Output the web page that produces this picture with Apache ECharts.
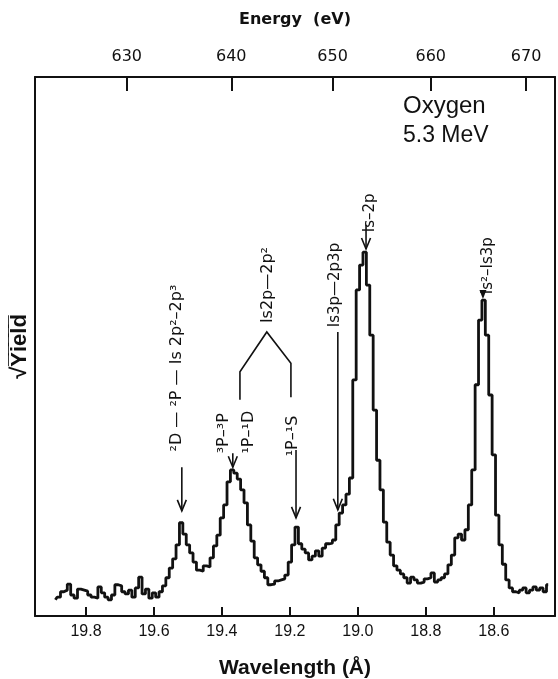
<!DOCTYPE html>
<html><head><meta charset="utf-8">
<script src="https://cdn.jsdelivr.net/npm/echarts@6/dist/echarts.min.js"></script>
<style>html,body{margin:0;padding:0;background:#fff}#c{width:558px;height:679px}</style>
</head><body><div id="c"></div>
<script>
// ---- data ----
const wavelength = [
19.89,19.88,19.87,19.86,19.85,19.84,19.83,19.82,19.81,19.80,
19.79,19.78,19.77,19.76,19.75,19.74,19.73,19.72,19.71,19.70,
19.69,19.68,19.67,19.66,19.65,19.64,19.63,19.62,19.61,19.60,
19.59,19.58,19.57,19.56,19.55,19.54,19.53,19.52,19.51,19.50,
19.49,19.48,19.47,19.46,19.45,19.44,19.43,19.42,19.41,19.40,
19.39,19.38,19.37,19.36,19.35,19.34,19.33,19.32,19.31,19.30,
19.29,19.28,19.27,19.26,19.25,19.24,19.23,19.22,19.21,19.20,
19.19,19.18,19.17,19.16,19.15,19.14,19.13,19.12,19.11,19.10,
19.09,19.08,19.07,19.06,19.05,19.04,19.03,19.02,19.01,19.00,
18.99,18.98,18.97,18.96,18.95,18.94,18.93,18.92,18.91,18.90,
18.89,18.88,18.87,18.86,18.85,18.84,18.83,18.82,18.81,18.80,
18.79,18.78,18.77,18.76,18.75,18.74,18.73,18.72,18.71,18.70,
18.69,18.68,18.67,18.66,18.65,18.64,18.63,18.62,18.61,18.60,
18.59,18.58,18.57,18.56,18.55,18.54,18.53,18.52,18.51,18.50,
18.49,18.48,18.47,18.46,18.45,18.44
];
const sqrtYield = [
3.0,3.5,4.5,4.8,5.9,3.9,3.3,5.0,4.8,4.6,
3.9,3.5,3.3,5.4,4.3,3.5,3.0,3.9,5.8,5.6,
4.5,4.1,4.8,3.5,5.2,7.2,4.1,5.0,3.3,4.3,
3.5,4.5,5.6,7.1,8.9,10.6,13.2,17.3,15.2,13.2,
11.7,10.0,8.5,8.3,9.3,9.1,10.8,13.0,15.0,18.2,
20.6,24.9,27.1,26.5,25.4,23.4,21.0,16.9,13.9,10.8,
9.5,8.3,7.1,5.8,5.9,6.5,6.7,6.9,7.6,10.0,
13.2,16.5,13.4,12.4,11.7,10.4,11.1,12.1,11.1,12.6,
13.4,13.5,14.1,16.9,19.1,20.6,22.6,25.6,43.8,60.5,
65.1,67.5,61.4,52.1,38.2,28.9,23.4,17.4,13.7,11.3,
9.3,8.5,7.8,7.1,6.1,7.2,6.7,6.1,6.3,6.9,
7.1,8.0,6.3,6.7,7.1,7.8,9.5,11.3,14.5,15.2,
14.1,16.0,20.6,27.1,42.9,54.9,58.6,52.1,41.0,29.9,
18.7,13.2,9.6,6.7,5.2,4.5,4.3,4.8,5.2,4.3,
4.8,5.4,4.8,5.2,4.5,5.8
];
const wavelengthTicks = [19.8, 19.6, 19.4, 19.2, 19.0, 18.8, 18.6];
const energyTicks = [630, 640, 650, 660, 670];

// annotations (text, wavelength, sqrt-yield at text centre, font size)
const labelTexts = ['²D — ²P — Is 2p²–2p³', '³P–³P', '¹P–¹D', 'Is2p—2p²', '¹P–¹S', 'Is3p—2p3p', 'Is–2p', 'Is²–Is3p'];
const labelWl    = [19.532, 19.394, 19.321, 19.265, 19.191, 19.068, 18.965, 18.618];
const labelVal   = [46.0, 33.9, 34.1, 61.4, 33.4, 61.4, 74.8, 65.0];
const labelSize  = [16, 16, 16, 16, 16, 15, 15, 15];
// arrows: wavelength, start value, tip value
const arrowWl   = [19.518, 19.368, 19.182, 19.059, 18.976];
const arrowFrom = [27.6, 30.2, 30.8, 52.7, 72.6];
const arrowTo   = [19.5, 27.6, 18.2, 19.7, 68.1];
// bracket joining ¹P–¹D and ¹P–¹S to Is2p—2p²
const bracketWl  = [19.347, 19.347, 19.268, 19.197, 19.197];
const bracketVal = [40.1, 45.3, 52.7, 46.9, 40.6];
// marker on Is²–Is3p line
const markerWl = [18.632];
const markerVal = [58.8];

const HC = 12398.42; // eV·Å

const ink = '#111';
const chart = echarts.init(document.getElementById('c'), null, {renderer: 'canvas'});

const specData = wavelength.map((w, i) => [w, sqrtYield[i]]);

const option = {
  animation: false,
  backgroundColor: '#fff',
  grid: {left: 35, right: 3, top: 77, bottom: 63, containLabel: false, outerBoundsMode: 'none'},
  xAxis: [{
    type: 'value', position: 'bottom', min: 18.42, max: 19.95, inverse: true,
    axisLine: {show: true, onZero: false, lineStyle: {color: ink, width: 2}},
    axisTick: {show: true, inside: true, length: 9, lineStyle: {color: ink, width: 2}, customValues: wavelengthTicks},
    axisLabel: {show: true, margin: 8, color: ink, fontSize: 16, fontFamily: 'Liberation Sans', customValues: wavelengthTicks,
      formatter: v => v.toFixed(1)},
    splitLine: {show: false},
    name: 'Wavelength (Å)', nameLocation: 'middle', nameGap: 42,
    nameTextStyle: {color: ink, fontSize: 21, fontWeight: 'bold', fontFamily: 'Liberation Sans'}
  }, {
    type: 'value', position: 'top', min: 18.42, max: 19.95, inverse: true,
    axisLine: {show: true, onZero: false, lineStyle: {color: ink, width: 2}},
    axisTick: {show: true, inside: true, length: 14, lineStyle: {color: ink, width: 2}, customValues: energyTicks.map(e => HC / e)},
    axisLabel: {show: true, margin: 12, color: ink, fontSize: 16, fontFamily: 'DejaVu Sans', customValues: energyTicks.map(e => HC / e),
      formatter: v => String(Math.round(HC / v))},
    splitLine: {show: false},
    name: 'Energy  (eV)', nameLocation: 'middle', nameGap: 49,
    nameTextStyle: {color: ink, fontSize: 16, fontWeight: 'bold', fontFamily: 'DejaVu Sans'}
  }],
  yAxis: [{
    type: 'value', min: 0, max: 100, position: 'left',
    axisLine: {show: true, onZero: false, lineStyle: {color: ink, width: 2}},
    axisTick: {show: false}, axisLabel: {show: false}, splitLine: {show: false},
    name: '√Y̅i̅e̅l̅d̅', nameLocation: 'middle', nameGap: 4, nameRotate: 90,
    nameTextStyle: {color: ink, fontSize: 22, fontWeight: 'bold', fontFamily: 'Liberation Sans'}
  }, {
    type: 'value', min: 0, max: 100, position: 'right',
    axisLine: {show: true, onZero: false, lineStyle: {color: ink, width: 2}},
    axisTick: {show: false}, axisLabel: {show: false}, splitLine: {show: false}
  }],
  graphic: [
    {type: 'text', left: 403, top: 94, style: {text: 'Oxygen', fill: ink, font: '24px "Liberation Sans"'}},
    {type: 'text', left: 403, top: 124, style: {text: '5.3 MeV', fill: ink, font: '23px "Liberation Sans"'}}
  ],
  series: [{
    type: 'line', name: 'spectrum', data: specData, step: 'middle', symbol: 'none',
    lineStyle: {color: ink, width: 2.8}, xAxisIndex: 0, yAxisIndex: 0, z: 3
  }, {
    type: 'custom', name: 'labels', xAxisIndex: 0, yAxisIndex: 0,
    data: labelTexts.map((t, i) => [labelWl[i], labelVal[i]]),
    renderItem: (params, api) => {
      const i = params.dataIndex;
      const p = api.coord([labelWl[i], labelVal[i]]);
      return {type: 'text', x: p[0], y: p[1], rotation: Math.PI / 2,
        style: {text: labelTexts[i], x: 0, y: 0, align: 'center', verticalAlign: 'middle',
          fill: ink, font: labelSize[i] + 'px "DejaVu Sans"'}};
    }
  }, {
    type: 'custom', name: 'arrows', xAxisIndex: 0, yAxisIndex: 0,
    data: arrowWl.map((w, i) => [w, arrowTo[i]]),
    renderItem: (params, api) => {
      const i = params.dataIndex;
      const a = api.coord([arrowWl[i], arrowFrom[i]]);
      const b = api.coord([arrowWl[i], arrowTo[i]]);
      return {type: 'group', children: [
        {type: 'line', shape: {x1: a[0], y1: a[1], x2: b[0], y2: b[1]}, style: {stroke: ink, lineWidth: 1.6}},
        {type: 'polyline', shape: {points: [[b[0] - 4.5, b[1] - 11], [b[0], b[1]], [b[0] + 4.5, b[1] - 11]]},
          style: {stroke: ink, lineWidth: 1.6, fill: null}}
      ]};
    }
  }, {
    type: 'custom', name: 'bracket', xAxisIndex: 0, yAxisIndex: 0,
    data: [0],
    renderItem: (params, api) => {
      const pts = bracketWl.map((w, i) => api.coord([w, bracketVal[i]]));
      return {type: 'polyline', shape: {points: pts}, style: {stroke: ink, lineWidth: 1.6, fill: null}};
    }
  }, {
    type: 'custom', name: 'marker', xAxisIndex: 0, yAxisIndex: 0,
    data: markerWl.map((w, i) => [w, markerVal[i]]),
    renderItem: (params, api) => {
      const i = params.dataIndex;
      const p = api.coord([markerWl[i], markerVal[i]]);
      return {type: 'polygon', shape: {points: [[p[0] - 3.5, p[1] - 9], [p[0] + 3.5, p[1] - 9], [p[0], p[1]]]},
        style: {fill: ink}};
    }
  }]
};
chart.setOption(option);
</script>
</body></html>
